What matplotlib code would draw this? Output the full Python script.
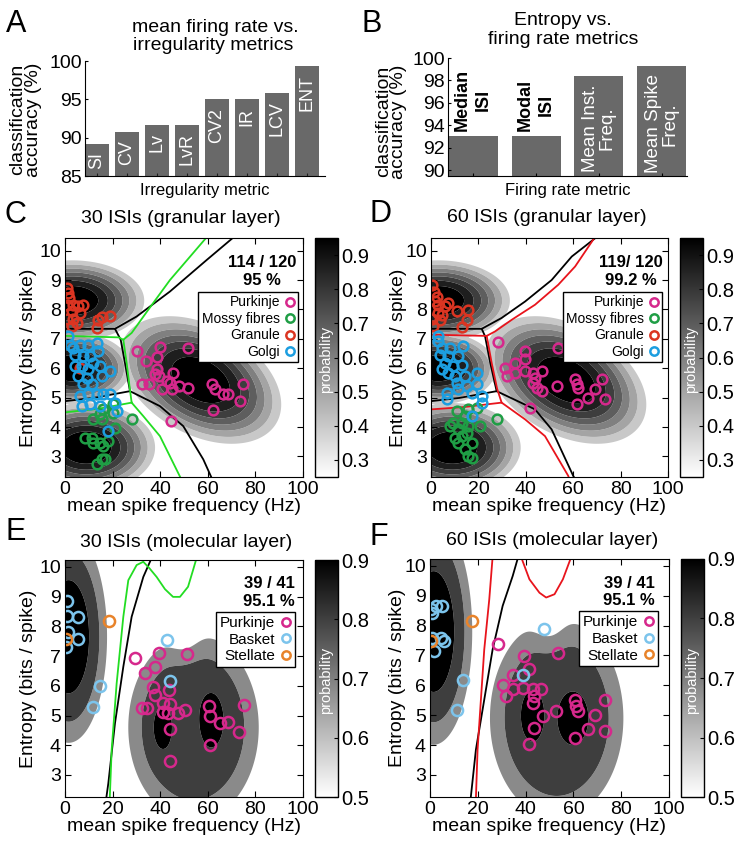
import numpy as np
import matplotlib
matplotlib.use("Agg")
import matplotlib.pyplot as plt
from matplotlib.colors import Normalize
from matplotlib.cm import ScalarMappable

plt.rcParams["font.family"] = ["Liberation Sans", "DejaVu Sans"]

W, H = 738, 847

# ---------------- panel A / B bars ----------------
irr_metrics = ["SI", "CV", "Lv", "LvR", "CV2", "IR", "LCV", "ENT"]
irr_accuracy = [89.2, 90.8, 91.7, 91.7, 95.0, 95.0, 95.8, 99.3]

rate_metrics = ["Median\nISI", "Modal\nISI", "Mean Inst.\nFreq.", "Mean Spike\nFreq."]
rate_accuracy = [93.1, 93.1, 98.4, 99.3]

# ---------------- panel C (30 ISIs, granular layer) ----------------
c_purkinje = [(30.1, 6.58), (39.9, 6.72), (51.5, 6.68), (38.5, 6.37), (34.0, 6.24), (38.5, 5.96),
              (37.8, 5.79), (45.5, 5.84), (32.5, 5.45), (35.4, 5.45), (39.6, 5.73), (42.7, 5.56),
              (44.1, 5.50), (40.6, 5.30), (47.9, 5.39), (51.5, 5.34), (44.8, 5.30), (61.6, 5.45),
              (63.0, 5.28), (68.6, 5.11), (66.5, 5.11), (74.9, 5.48), (73.5, 4.88), (62.0, 4.57),
              (44.5, 4.20)]
c_mossy = [(16.1, 4.60), (20.3, 4.77), (20.3, 4.49), (14.7, 4.43), (11.9, 4.26), (15.4, 4.26),
           (28.0, 4.26), (21.0, 3.98), (8.4, 3.64), (11.2, 3.64), (11.9, 3.47), (14.7, 3.47),
           (16.1, 3.36), (18.2, 3.53), (15.4, 2.91), (16.8, 2.91), (13.3, 2.74)]
c_granule = [(1.0, 8.73), (1.4, 8.56), (1.8, 8.39), (1.0, 8.16), (3.5, 8.16), (5.6, 8.10),
             (7.7, 8.16), (2.8, 7.93), (6.3, 7.88), (0.7, 7.67), (3.5, 7.67), (4.9, 7.54),
             (2.8, 7.42), (14.0, 7.65), (15.4, 7.74), (18.9, 7.76), (13.3, 7.37), (6.3, 6.00)]
c_golgi = [(1.4, 7.08), (2.1, 6.80), (3.5, 6.69), (6.3, 6.80), (9.8, 6.80), (13.3, 6.86),
           (14.0, 6.58), (4.2, 6.46), (7.7, 6.41), (10.5, 6.41), (11.9, 6.18), (4.2, 6.07),
           (7.0, 6.07), (9.8, 5.96), (14.7, 6.07), (18.9, 5.90), (5.6, 5.73), (9.1, 5.67),
           (15.4, 5.73), (7.7, 5.45), (11.2, 5.45), (6.3, 5.05), (9.8, 5.11), (13.3, 5.11),
           (16.1, 5.11), (18.9, 5.11), (21.0, 4.83), (7.0, 4.71), (10.5, 4.77), (14.7, 4.71),
           (21.7, 4.54), (18.2, 3.86)]
c_black_lines = [
    [(0, 7.34), (21.0, 7.34), (30.1, 7.76), (44.1, 8.61), (59.5, 9.68), (71.5, 10.5)],
    [(21.0, 7.34), (23.4, 6.97), (25.2, 6.18), (27.3, 5.22)],
    [(0, 4.88), (11.9, 4.99), (27.3, 5.22), (39.9, 4.71), (49.7, 4.03), (58.1, 2.90), (62.0, 2.2)],
]
c_green_lines = [
    [(0, 7.10), (22.5, 7.05), (24.5, 6.97)],
    [(24.5, 6.97), (28.0, 7.20), (35.0, 7.99), (44.1, 9.00), (60.0, 10.5)],
    [(24.5, 6.97), (25.9, 6.18), (27.1, 5.39), (28.0, 4.83)],
    [(0, 4.50), (14.0, 4.62), (28.0, 4.83)],
    [(28.0, 4.83), (32.9, 4.37), (39.9, 3.69), (49.0, 2.2)],
]

# ---------------- panel D (60 ISIs, granular layer) ----------------
d_purkinje = [(28.4, 6.88), (39.7, 6.58), (53.7, 6.69), (39.7, 6.30), (35.4, 6.18), (31.2, 6.01),
              (31.9, 5.73), (35.4, 5.84), (39.7, 5.90), (43.2, 5.84), (46.7, 5.90), (43.9, 5.67),
              (43.2, 5.50), (44.6, 5.34), (46.7, 5.22), (53.0, 5.39), (60.8, 5.62), (61.5, 5.45),
              (62.2, 5.34), (72.0, 5.62), (69.2, 5.28), (66.4, 5.00), (73.4, 4.94), (61.5, 4.77),
              (41.8, 4.66)]
d_mossy = [(10.8, 4.54), (15.8, 4.60), (19.3, 4.66), (14.3, 4.37), (9.4, 4.15), (13.0, 4.15),
           (8.0, 4.03), (27.7, 4.26), (11.5, 3.92), (15.8, 4.03), (20.7, 4.03), (10.1, 3.64),
           (13.0, 3.69), (15.1, 3.81), (11.5, 3.47), (17.2, 3.47), (14.3, 3.24), (15.8, 3.02),
           (17.2, 2.96)]
d_granule = [(0.3, 8.84), (1.4, 8.61), (2.4, 8.44), (1.7, 8.27), (3.1, 8.16), (5.9, 8.10),
             (7.3, 8.22), (10.8, 7.93), (15.8, 7.99), (3.1, 7.88), (0.3, 7.67), (3.8, 7.65),
             (15.1, 7.63), (13.0, 7.40), (4.5, 7.82), (0.8, 7.45)]
d_golgi = [(3.1, 7.11), (3.1, 6.92), (4.5, 6.69), (8.0, 6.69), (13.6, 6.77), (3.8, 6.46),
           (7.3, 6.41), (11.5, 6.41), (5.9, 6.18), (9.4, 6.07), (13.0, 6.12), (19.3, 5.84),
           (4.5, 5.96), (7.3, 5.84), (10.1, 5.73), (14.3, 5.73), (10.8, 5.50), (15.1, 5.39),
           (19.3, 5.45), (6.6, 5.17), (11.5, 5.28), (17.2, 5.17), (21.4, 5.05), (6.6, 4.94),
           (21.4, 4.83), (17.2, 4.37)]
d_black_lines = [
    [(0, 7.34), (21.4, 7.34), (29.8, 7.71), (39.7, 8.27), (50.9, 9.00), (59.4, 9.80), (70.5, 10.5)],
    [(21.4, 7.34), (22.8, 7.09), (25.0, 6.18), (27.7, 5.22)],
    [(0, 4.88), (12.0, 4.99), (27.7, 5.22), (43.9, 4.60), (50.9, 3.92), (60.0, 2.34), (61.0, 2.2)],
]
d_red_lines = [
    [(0, 7.14), (23.5, 7.10), (27.0, 7.25), (34.1, 7.65), (43.9, 8.16), (53.7, 8.84), (60.8, 9.46), (69.5, 10.5)],
    [(23.5, 7.10), (25.6, 6.18), (27.9, 5.30), (29.8, 4.83)],
    [(0, 4.60), (14.0, 4.68), (29.8, 4.83), (39.7, 4.26), (48.1, 3.69), (57.9, 2.34), (58.5, 2.2)],
]

# ---------------- panel E (30 ISIs, molecular layer) ----------------
e_purkinje = [(29.4, 6.92), (33.6, 6.44), (37.8, 6.62), (39.6, 7.11), (51.1, 7.06), (37.1, 5.97),
              (37.8, 5.69), (43.8, 5.86), (41.3, 5.43), (44.1, 5.39), (32.2, 5.24), (34.3, 5.24),
              (41.3, 5.13), (43.4, 5.07), (47.6, 5.07), (50.4, 5.18), (44.1, 4.54), (44.1, 3.48),
              (60.6, 5.32), (61.0, 5.00), (65.0, 4.74), (68.3, 4.78), (73.2, 4.46), (75.1, 5.34),
              (61.1, 4.01)]
e_basket = [(0.7, 8.86), (0.7, 8.35), (5.6, 8.32), (1.4, 7.80), (5.6, 7.59), (0.5, 7.31),
            (14.7, 5.99), (11.7, 5.27), (42.9, 7.55), (44.1, 6.17)]
e_stellate = [(0.3, 7.56), (18.6, 8.17)]
e_black_lines = [
    [(17.3, 2.2), (18.2, 2.72), (21.0, 4.74), (24.5, 6.64), (28.0, 8.32), (32.9, 9.66), (36.4, 10.3)],
]
e_green_lines = [
    [(18.8, 2.2), (19.6, 3.84), (21.7, 6.08), (24.5, 8.32), (26.6, 9.55), (30.1, 10.06), (32.9, 10.17),
     (35.5, 9.95), (38.5, 9.66), (42.0, 9.25), (45.4, 8.99), (48.3, 8.99), (51.7, 9.33), (53.8, 9.89),
     (55.3, 10.3)],
]

# ---------------- panel F (60 ISIs, molecular layer) ----------------
f_purkinje = [(28.3, 7.37), (39.5, 6.98), (41.6, 6.53), (34.6, 6.36), (30.4, 6.02), (31.8, 5.63),
              (34.6, 5.86), (38.8, 5.91), (43.0, 5.86), (46.5, 5.88), (43.7, 5.63), (43.0, 5.41),
              (47.2, 4.96), (43.7, 4.57), (41.6, 4.04), (52.8, 5.13), (53.5, 7.07), (60.5, 5.52),
              (61.2, 5.30), (61.9, 5.13), (60.5, 4.22), (66.1, 4.54), (68.9, 5.02), (73.1, 5.52),
              (73.1, 4.48)]
f_basket = [(0.3, 8.57), (2.4, 8.66), (5.2, 8.64), (1.0, 8.43), (1.0, 7.59), (4.5, 7.59),
            (5.9, 7.48), (1.7, 7.14), (14.0, 6.19), (11.5, 5.18), (47.9, 7.87), (38.8, 6.36)]
f_stellate = [(0.3, 7.48), (17.5, 8.15)]
f_black_lines = [
    [(17.0, 2.2), (19.2, 3.84), (22.7, 5.52), (26.2, 7.20), (30.4, 8.66), (34.6, 9.66), (36.9, 10.3)],
]
f_red_lines = [
    [(19.2, 2.2), (19.9, 3.84), (21.3, 5.52), (22.7, 7.20), (24.8, 8.88), (26.2, 10.3)],
    [(38.1, 10.3), (41.6, 9.55), (45.8, 9.10), (48.6, 8.94), (52.1, 9.05), (55.6, 9.55), (59.1, 10.3)],
]

# class density blobs: (cx, cy, sx, sy, angle, amp, shape exponent)
granular_blobs = [
    [(3, 8.3, 21, 0.95, 0, 1.0, 2.4)],         # granule
    [(3, 6.0, 17, 0.85, 0, 1.0, 2.4)],         # golgi
    [(9, 3.3, 20, 1.05, 0, 1.0, 2.4)],         # mossy fibres
    [(57, 5.6, 24.5, 1.33, -20, 1.0, 2.4)],    # purkinje
]
molecular_e_blobs = [
    [(1.5, 7.65, 14.5, 3.2, 0, 1.0, 3)],
    [(54, 4.6, 27, 3.1, 0, 0.85, 4), (40, 4.6, 3.5, 0.7, 0, 0.15, 2),
     (62, 4.9, 3.8, 0.7, 0, 0.15, 2), (50, 7.8, 5, 0.7, 0, -0.2, 2)],
]
molecular_f_blobs = [
    [(1.5, 7.8, 14.5, 3.4, 0, 1.0, 3)],
    [(53, 4.9, 27.5, 3.3, 0, 0.85, 4), (42, 5.0, 3.8, 0.7, 0, 0.15, 2),
     (60.5, 4.9, 4.8, 0.65, 0, 0.15, 2), (50, 8.1, 5, 0.7, 0, -0.2, 2)],
]

PURK = "#d6288c"
MOSSY = "#1f9e45"
GRAN = "#db3522"
GOLGI = "#1c9ee0"
BASKET = "#7cc4ec"
STELL = "#e8832a"
BAR = "#696969"


def px_rect(x0, y0, x1, y1):
    # pixel box (left, top, right, bottom) -> figure fraction
    return [x0 / W, 1 - y1 / H, (x1 - x0) / W, (y1 - y0) / H]


def density(xx, yy, blobs):
    field = np.zeros_like(xx)
    for comps in blobs:
        cls = np.zeros_like(xx)
        for cx, cy, sx, sy, ang, amp, k in comps:
            t = np.deg2rad(ang)
            u = (xx - cx) / 10.0
            v = yy - cy
            ur = u * np.cos(t) + v * np.sin(t)
            vr = -u * np.sin(t) + v * np.cos(t)
            d2 = (ur / (sx / 10.0)) ** 2 + (vr / sy) ** 2
            cls += amp * np.exp(-0.5 * d2 ** (k / 2.0))
        field = np.maximum(field, cls)
    return field


def fig_text(x, y, s, **kw):
    fig.text(x / W, 1 - y / H, s, **kw)


fig = plt.figure(figsize=(W / 100, H / 100), dpi=100)

# ---------------- A ----------------
axA = fig.add_axes(px_rect(85, 61, 325, 176))
xa = np.arange(1, len(irr_metrics) + 1)
axA.bar(xa, irr_accuracy, width=0.8, color=BAR)
for x, h, lab in zip(xa, irr_accuracy, irr_metrics):
    axA.annotate(lab, (x, h), xytext=(0, -6), textcoords="offset points", rotation=90,
                 ha="center", va="top", color="white", fontsize=13)
axA.set_xlim(0.6, 8.6)
axA.set_ylim(85, 100)
axA.set_yticks([85, 90, 95, 100])
axA.set_xticks(xa)
axA.set_xticklabels([])
axA.tick_params(direction="in", labelsize=14, pad=2, length=2)
axA.tick_params(axis="x", length=2, color="#222222")
axA.spines[["top", "right"]].set_visible(False)
axA.set_ylabel("classification\naccuracy (%)", fontsize=14, linespacing=0.9)
axA.yaxis.set_label_coords(-0.18, 0.49)
axA.set_xlabel("Irregularity metric", fontsize=12, labelpad=3)

# ---------------- B ----------------
axB = fig.add_axes(px_rect(448, 58, 687, 176))
xb = np.arange(1, len(rate_metrics) + 1)
axB.bar(xb, rate_accuracy, width=0.78, color=BAR)
for i, (x, h, lab) in enumerate(zip(xb, rate_accuracy, rate_metrics)):
    if i < 2:
        axB.annotate(lab, (x, h), xytext=(0, 3), textcoords="offset points", rotation=90,
                     ha="center", va="bottom", color="black", fontsize=13, fontweight="bold",
                     multialignment="center", linespacing=1.3)
    else:
        axB.annotate(lab, (x, h), xytext=(0, -6), textcoords="offset points", rotation=90,
                     ha="center", va="top", color="white", fontsize=13.5,
                     multialignment="center", linespacing=1.0)
axB.set_xlim(0.6, 4.4)
axB.set_ylim(89.5, 100)
axB.set_yticks([90, 92, 94, 96, 98, 100])
axB.set_xticks(xb)
axB.set_xticklabels([])
axB.tick_params(direction="in", labelsize=14, pad=2, length=2)
axB.spines[["top", "right"]].set_visible(False)
axB.set_ylabel("classification\naccuracy (%)", fontsize=14, linespacing=0.9)
axB.yaxis.set_label_coords(-0.17, 0.46)
axB.set_xlabel("Firing rate metric", fontsize=12, labelpad=3)


# ---------------- C - F ----------------
def scatter_panel(rect, cbar_rect, blobs, levels, band_colors, cnorm, cticks, ylim,
                  groups, lines, score, score_x, legend_anchor, legend_fs, msize):
    ax = fig.add_axes(px_rect(*rect))
    gx = np.linspace(0, 100, 301)
    gy = np.linspace(ylim[0], ylim[1], 301)
    xx, yy = np.meshgrid(gx, gy)
    zz = density(xx, yy, blobs)
    ax.contourf(xx, yy, zz, levels=levels, colors=band_colors, antialiased=True)
    for segs, col in lines:
        for seg in segs:
            sx, sy = zip(*seg)
            ax.plot(sx, sy, color=col, lw=1.3)
    for name, pts, col in groups:
        px, py = zip(*pts)
        ax.plot(px, py, "o", ls="none", mfc="none", mec=col, ms=msize, mew=1.8, label=name)
    ax.set_xlim(0, 100)
    ax.set_ylim(*ylim)
    ax.set_xticks(range(0, 101, 20))
    ax.set_yticks(range(3, 11))
    ax.tick_params(direction="in", top=True, right=True, labelsize=14, pad=3, length=4)
    ax.set_xlabel("mean spike frequency (Hz)", fontsize=14, labelpad=0)
    ax.set_ylabel("Entropy (bits / spike)", fontsize=14)
    ax.yaxis.set_label_coords(-0.118 if rect[0] < 200 else -0.10, 0.5)
    leg = ax.legend(loc="upper right", bbox_to_anchor=legend_anchor, borderaxespad=0,
                    markerfirst=False, fancybox=False, edgecolor="black", framealpha=1,
                    fontsize=legend_fs, handlelength=0.7, handletextpad=0.35, borderpad=0.25,
                    labelspacing=0.18, markerscale=6.0 / msize)
    leg.get_frame().set_linewidth(1.0)
    ax.text(score_x, 0.88, score[0], transform=ax.transAxes, ha="center", va="baseline",
            fontsize=12, fontweight="bold")
    ax.text(score_x, 0.805, score[1], transform=ax.transAxes, ha="center", va="baseline",
            fontsize=12, fontweight="bold")

    cax = fig.add_axes(px_rect(*cbar_rect))
    cb = fig.colorbar(ScalarMappable(norm=cnorm, cmap="gray_r"), cax=cax)
    cb.set_ticks(cticks)
    cb.outline.set_linewidth(1.0)
    cax.tick_params(direction="in", labelsize=14.5, pad=2, length=3)
    cax.text(0.5, 0.49, "probability", transform=cax.transAxes, rotation=90, color="white",
             ha="center", va="center", fontsize=10.5)
    return ax


gran_levels = [0.3, 0.4, 0.5, 0.6, 0.7, 0.8, 0.9, 50]
gran_colors = ["#c8c8c8", "#a4a4a4", "#808080", "#5e5e5e", "#3e3e3e", "#1e1e1e", "#000000"]
mol_levels = [0.5, 0.7, 0.9, 50]
mol_colors = ["#8a8a8a", "#3e3e3e", "#000000"]

scatter_panel((65, 238, 303, 477), (315, 238, 338, 477), granular_blobs, gran_levels, gran_colors,
              Normalize(0.25, 0.95), [0.3, 0.4, 0.5, 0.6, 0.7, 0.8, 0.9], (2.3, 10.43),
              [("Purkinje", c_purkinje, PURK), ("Mossy fibres", c_mossy, MOSSY),
               ("Granule", c_granule, GRAN), ("Golgi", c_golgi, GOLGI)],
              [(c_black_lines, "black"), (c_green_lines, "#22dd22")],
              ("114 / 120", "95 %"), 0.828, (0.979, 0.774), 10, 7)

scatter_panel((431, 238, 668, 477), (680, 238, 703, 477), granular_blobs, gran_levels, gran_colors,
              Normalize(0.25, 0.95), [0.3, 0.4, 0.5, 0.6, 0.7, 0.8, 0.9], (2.3, 10.43),
              [("Purkinje", d_purkinje, PURK), ("Mossy fibres", d_mossy, MOSSY),
               ("Granule", d_granule, GRAN), ("Golgi", d_golgi, GOLGI)],
              [(d_black_lines, "black"), (d_red_lines, "#e8141c")],
              ("119/ 120", "99.2 %"), 0.842, (0.975, 0.774), 10, 7)

scatter_panel((65, 560, 303, 797), (315, 560, 338, 797), molecular_e_blobs, mol_levels, mol_colors,
              Normalize(0.5, 0.9), [0.5, 0.6, 0.7, 0.8, 0.9], (2.26, 10.23),
              [("Purkinje", e_purkinje, PURK), ("Basket", e_basket, BASKET),
               ("Stellate", e_stellate, STELL)],
              [(e_black_lines, "black"), (e_green_lines, "#22dd22")],
              ("39 / 41", "95.1 %"), 0.857, (0.966, 0.78), 11, 8)

scatter_panel((430, 559, 669, 797), (681, 559, 704, 797), molecular_f_blobs, mol_levels, mol_colors,
              Normalize(0.5, 0.9), [0.5, 0.6, 0.7, 0.8, 0.9], (2.26, 10.23),
              [("Purkinje", f_purkinje, PURK), ("Basket", f_basket, BASKET),
               ("Stellate", f_stellate, STELL)],
              [(f_black_lines, "black"), (f_red_lines, "#e8141c")],
              ("39 / 41", "95.1 %"), 0.833, (0.954, 0.78), 11, 8)

# ---------------- titles and panel letters ----------------
fig_text(215, 31.5, "mean firing rate vs.", fontsize=14, ha="center", va="baseline")
fig_text(213, 50, "irregularity metrics", fontsize=14, ha="center", va="baseline")
fig_text(563, 25, "Entropy vs.", fontsize=14, ha="center", va="baseline")
fig_text(563, 44.5, "firing rate metrics", fontsize=14, ha="center", va="baseline")
fig_text(181, 223, "30 ISIs (granular layer)", fontsize=14, ha="center", va="baseline")
fig_text(547, 222, "60 ISIs (granular layer)", fontsize=14, ha="center", va="baseline")
fig_text(186, 547, "30 ISIs (molecular layer)", fontsize=14, ha="center", va="baseline")
fig_text(552, 545, "60 ISIs (molecular layer)", fontsize=14, ha="center", va="baseline")

for letter, x, y in [("A", 6, 32), ("B", 362, 32), ("C", 5, 223), ("D", 370, 222),
                     ("E", 5, 540), ("F", 370, 545)]:
    fig_text(x, y, letter, fontsize=22, ha="left", va="baseline")

fig.savefig("out.png", dpi=100)
